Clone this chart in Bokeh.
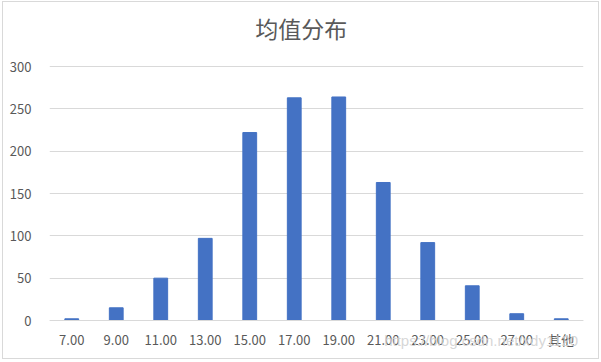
from bokeh.plotting import figure
from bokeh.models import ColumnDataSource, Label, FixedTicker
from bokeh.embed import file_html
from bokeh.resources import INLINE

# bin labels and counts of the mean-value histogram
bins = ["7.00", "9.00", "11.00", "13.00", "15.00", "17.00",
        "19.00", "21.00", "23.00", "25.00", "27.00", "其他"]
counts = [2, 15, 50, 97, 222, 263, 264, 163, 92, 41, 8, 2]
y_ticks = [0, 50, 100, 150, 200, 250, 300]
title_text = "均值分布"
source_note = "https://blog.csdn.net/xdy1120"

TEXT = "#595959"
GRID = "#d9d9d9"
BAR = "#4472C4"
FONT = "Noto Sans CJK SC"

# the plot frame fills the full height; value axis runs 0..300 inside it
PX_PER_UNIT = 254 / 300
Y_LO = -40 / PX_PER_UNIT
Y_HI = 300 + 64 / PX_PER_UNIT

src = ColumnDataSource(dict(bin=bins, count=counts))

p = figure(
    x_range=bins, y_range=(Y_LO, Y_HI),
    width=597, height=358,
    output_backend="svg", toolbar_location=None,
    min_border_left=46, min_border_right=17,
    min_border_top=0, min_border_bottom=0,
)
p.styles = {"border": "1px solid #d9d9d9", "margin-left": "2px", "margin-top": "1px"}

p.vbar(x="bin", top="count", width=0.31, source=src, color=BAR)

p.outline_line_color = None
p.xgrid.grid_line_color = None
p.ygrid.grid_line_color = GRID
p.ygrid.ticker = FixedTicker(ticks=y_ticks)

p.yaxis.ticker = FixedTicker(ticks=y_ticks)
p.yaxis.axis_line_color = None
p.yaxis.major_tick_line_color = None
p.yaxis.minor_tick_line_color = None
p.yaxis.major_label_standoff = 12

# category axis sits on the zero line
p.xaxis.fixed_location = 0
p.xaxis.axis_line_color = GRID
p.xaxis.major_tick_line_color = None
p.xaxis.minor_tick_line_color = None
p.xaxis.major_label_standoff = 3

for ax in (p.xaxis, p.yaxis):
    ax.major_label_text_font = FONT
    ax.major_label_text_font_size = "13px"
    ax.major_label_text_color = TEXT

# chart title, centred over the whole chart
p.add_layout(Label(x=5.66, y=300 + 39 / PX_PER_UNIT, text=title_text,
                   text_font=FONT, text_font_size="23px",
                   text_color=TEXT, text_align="center",
                   text_baseline="middle"))

p.add_layout(Label(x=7.52, y=-20 / PX_PER_UNIT, text=source_note,
                   text_font="Liberation Sans", text_font_size="15px",
                   text_color="#d2d2d2", text_alpha=0.9,
                   text_baseline="middle"))

with open("out.html", "w") as f:
    f.write(file_html(p, INLINE))
